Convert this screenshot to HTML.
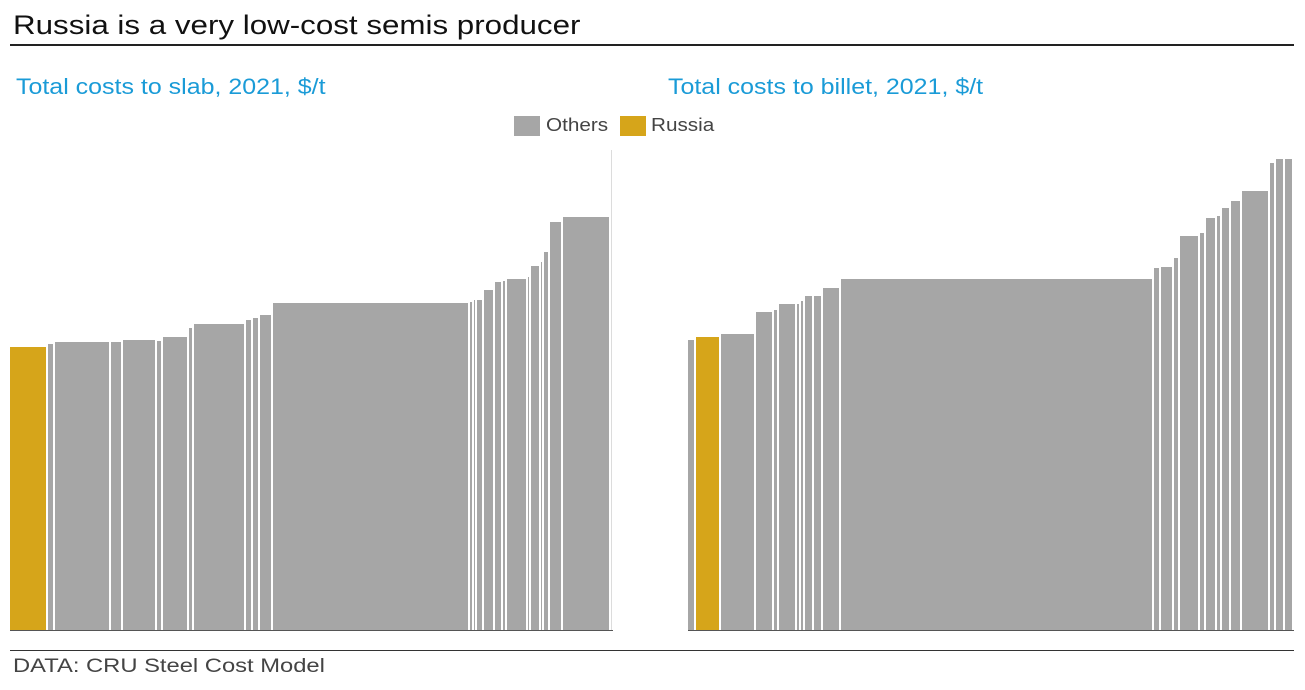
<!DOCTYPE html>
<html><head><meta charset="utf-8"><style>
body{margin:0;width:1305px;height:690px;background:#fff;overflow:hidden;font-family:"Liberation Sans",Arial,sans-serif;position:relative}
.t{position:absolute;white-space:nowrap;transform-origin:0 0}
</style></head><body>
<div class="t" style="left:13px;top:10px;font-size:27px;color:#111;transform:scaleX(1.16)">Russia is a very low-cost semis producer</div>
<div style="position:absolute;left:10px;top:44px;width:1284px;height:2px;background:#222"></div>
<div class="t" style="left:16px;top:74px;font-size:22px;color:#1a9bd7;transform:scaleX(1.135)">Total costs to slab, 2021, $/t</div>
<div class="t" style="left:668px;top:74px;font-size:22px;color:#1a9bd7;transform:scaleX(1.135)">Total costs to billet, 2021, $/t</div>
<div>
<div style="position:absolute;left:514px;top:116px;width:26px;height:20px;background:#a6a6a6"></div>
<div class="t" style="left:546px;top:115px;font-size:18px;color:#444;transform:scaleX(1.15)">Others</div></div>
<div>
<div style="position:absolute;left:620px;top:116px;width:26px;height:20px;background:#d6a51a"></div>
<div class="t" style="left:651px;top:115px;font-size:18px;color:#444;transform:scaleX(1.15)">Russia</div></div>
<svg id="chart" width="1305" height="690" style="position:absolute;left:0;top:0"></svg>
<div style="position:absolute;left:10px;top:650px;width:1284px;height:1px;background:#333"></div>
<div class="t" style="left:13px;top:656px;font-size:19px;color:#444;transform:scaleX(1.25)">DATA: CRU Steel Cost Model</div>
<script>
const slabCapacity=[38,7,56,12,34,6,26,5,52,7,7,13,197,4,3,7,11,8,4,21,3,10,3,6,13,48,2];
const slabCost=[566,572,576,576,580,578,586,604,612,620,624,630,654,656,660,660,680,696,698,702,706,728,736,756,816,826,960];
const slabRussia=[0];
const billetCapacity=[8,25,35,18,5,18,4,4,9,9,18,313,7,13,6,20,6,11,5,9,11,28,6,9,9];
const billetCost=[580,586,592,636,640,652,652,658,668,668,684,702,724,726,744,788,794,824,828,844,858,878,934,942,942];
const billetRussia=[1];
const NS="http://www.w3.org/2000/svg";
const svg=document.getElementById('chart');
const base=630;
function yScale(v){return base-v/2;}
function drawPanel(x0,caps,costs,rus,name){
  const xs=c=>x0+c;
  let cum=0;
  caps.forEach((w,i)=>{
    const r=document.createElementNS(NS,'rect');
    const last=i===caps.length-1&&w<=2;
    r.setAttribute('x',xs(cum));
    r.setAttribute('y',yScale(costs[i]));
    r.setAttribute('width',Math.max(xs(cum+w)-xs(cum)-2,1));
    r.setAttribute('height',base-yScale(costs[i]));
    r.setAttribute('fill',rus.includes(i)?'#d6a51a':(last?'#dcdcdc':'#a6a6a6'));
    
    
    svg.appendChild(r);
    cum+=w;
  });
  const l=document.createElementNS(NS,'line');
  l.setAttribute('x1',x0);l.setAttribute('x2',xs(cum));
  l.setAttribute('y1',base+0.5);l.setAttribute('y2',base+0.5);
  l.setAttribute('stroke','#555');l.setAttribute('stroke-width','1');
  
  
  svg.appendChild(l);
}
drawPanel(10,slabCapacity,slabCost,slabRussia,'slab');
drawPanel(688,billetCapacity,billetCost,billetRussia,'billet');
</script>
</body></html>
